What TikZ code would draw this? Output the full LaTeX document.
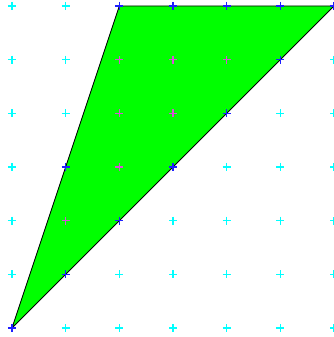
\documentclass[tikz,border=0pt]{standalone}
\definecolor{ptout}{RGB}{0,255,255}
\definecolor{pton}{RGB}{30,30,255}
\definecolor{ptin}{RGB}{215,80,215}
\definecolor{trifill}{RGB}{0,255,0}
\begin{document}
\begin{tikzpicture}[x=53.67pt,y=53.67pt]
\tikzset{
  plusmark/.style={mark=+,mark size=4pt,only marks,mark options={line width=1.2pt}},
  outpt/.style={plusmark,color=ptout},
  onpt/.style={plusmark,color=pton},
  inpt/.style={plusmark,color=ptin}}
\fill[white] (-12pt,-9pt) rectangle (322pt,328pt);
\useasboundingbox (-12pt,-9pt) rectangle (322pt,328pt);
\coordinate (A) at (0,0);
\coordinate (B) at (2,6);
\coordinate (C) at (6,6);
\filldraw[fill=trifill,draw=black,line width=0.8pt] (A) -- (B) -- (C) -- cycle;
\draw[outpt] plot coordinates {(0,1) (0,2) (0,3) (0,4) (0,5) (0,6) (1,0) (1,4) (1,5) (1,6)
  (2,0) (2,1) (3,0) (3,1) (3,2) (4,0) (4,1) (4,2) (4,3) (5,0) (5,1) (5,2) (5,3) (5,4)
  (6,0) (6,1) (6,2) (6,3) (6,4) (6,5)};
\draw[onpt] plot coordinates {(0,0) (1,1) (1,3) (2,2) (2,6) (3,3) (3,6) (4,4) (4,6) (5,5) (5,6) (6,6)};
\draw[inpt] plot coordinates {(1,2) (2,3) (2,4) (2,5) (3,4) (3,5) (4,5)};
\end{tikzpicture}
\end{document}
